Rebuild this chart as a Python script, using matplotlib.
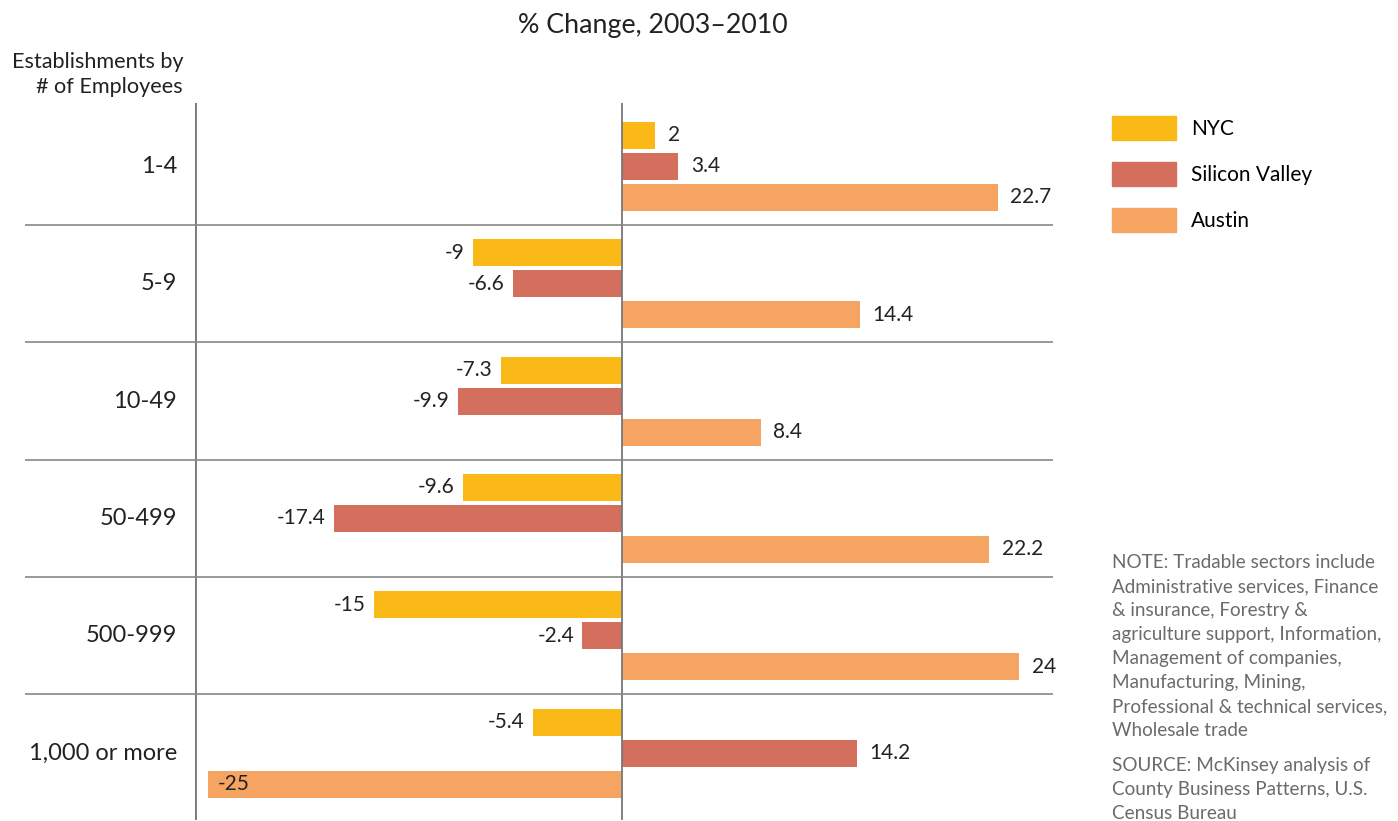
import numpy as np
import matplotlib.pyplot as plt
from matplotlib.patches import Patch

plt.rcParams['font.family'] = ['Lato', 'DejaVu Sans']

categories = ['1-4', '5-9', '10-49', '50-499', '500-999', '1,000 or more']
series_names = ['NYC', 'Silicon Valley', 'Austin']
nyc = [2, -9, -7.3, -9.6, -15, -5.4]
silicon_valley = [3.4, -6.6, -9.9, -17.4, -2.4, 14.2]
austin = [22.7, 14.4, 8.4, 22.2, 24, -25]
colors = ['#FBB917', '#D46F5E', '#F6A462']

note_text = ("NOTE: Tradable sectors include\nAdministrative services, Finance\n"
             "& insurance, Forestry &\nagriculture support, Information,\n"
             "Management of companies,\nManufacturing, Mining,\n"
             "Professional & technical services,\nWholesale trade")
source_text = "SOURCE: McKinsey analysis of\nCounty Business Patterns, U.S.\nCensus Bureau"

fig = plt.figure(figsize=(13.98, 8.21), dpi=100)
ax = fig.add_axes([195 / 1398, 1 - 820 / 821, (1053 - 195) / 1398, (820 - 103) / 821])

y = np.arange(len(categories))
bar_h = 0.23
step = 0.264
all_series = [nyc, silicon_valley, austin]

for k, vals in enumerate(all_series):
    yy = y + (k - 1) * step
    ax.barh(yy, vals, height=bar_h, color=colors[k], label=series_names[k])
    for v, yp in zip(vals, yy):
        lab = '%g' % v
        if v <= -25:
            ax.text(v + 0.6, yp, lab, ha='left', va='center', fontsize=15, color='#222222')
        elif v >= 0:
            ax.text(v + 0.75, yp, lab, ha='left', va='center', fontsize=15, color='#222222')
        else:
            ax.text(v - 0.5, yp, lab, ha='right', va='center', fontsize=15, color='#222222')

ax.set_xlim(-25.8, 26.04)
ax.set_ylim(len(categories) - 1 + 0.57, -0.54)

for sp in ax.spines.values():
    sp.set_visible(False)
ax.set_xticks([])
ax.set_yticks([])

ax.axvline(-25.8, color='#777777', lw=2)
ax.axvline(0, color='#777777', lw=1.3)
ax.hlines(y[:-1] + 0.5, -36.1, 26.04, color='#888888', lw=1.2, clip_on=False)

for i, c in enumerate(categories):
    ax.text(-26.9, y[i], c, ha='right', va='center', fontsize=17, color='#222222')

fig.text(653 / 1398, 1 - 25 / 821, '% Change, 2003\u20132010', ha='center', va='center',
         fontsize=19.3, color='#222222')
fig.text(183 / 1398, 1 - 52 / 821, 'Establishments by\n# of Employees', ha='right', va='top',
         fontsize=15.6, color='#222222', linespacing=1.3)

handles = [Patch(color=colors[k], label=series_names[k]) for k in range(3)]
fig.legend(handles=handles, loc='upper left', bbox_to_anchor=(1093 / 1398, 1 - 97 / 821),
           frameon=False, fontsize=15, handlelength=3.07, handleheight=1.4,
           labelspacing=1.06, handletextpad=0.72)

fig.text(1112 / 1398, 1 - 554 / 821, note_text, ha='left', va='top', fontsize=13.6,
         color='#6b6b6b', linespacing=1.5)
fig.text(1112 / 1398, 1 - 757 / 821, source_text, ha='left', va='top', fontsize=13.6,
         color='#6b6b6b', linespacing=1.5)

fig.savefig('out.png', dpi=100)
